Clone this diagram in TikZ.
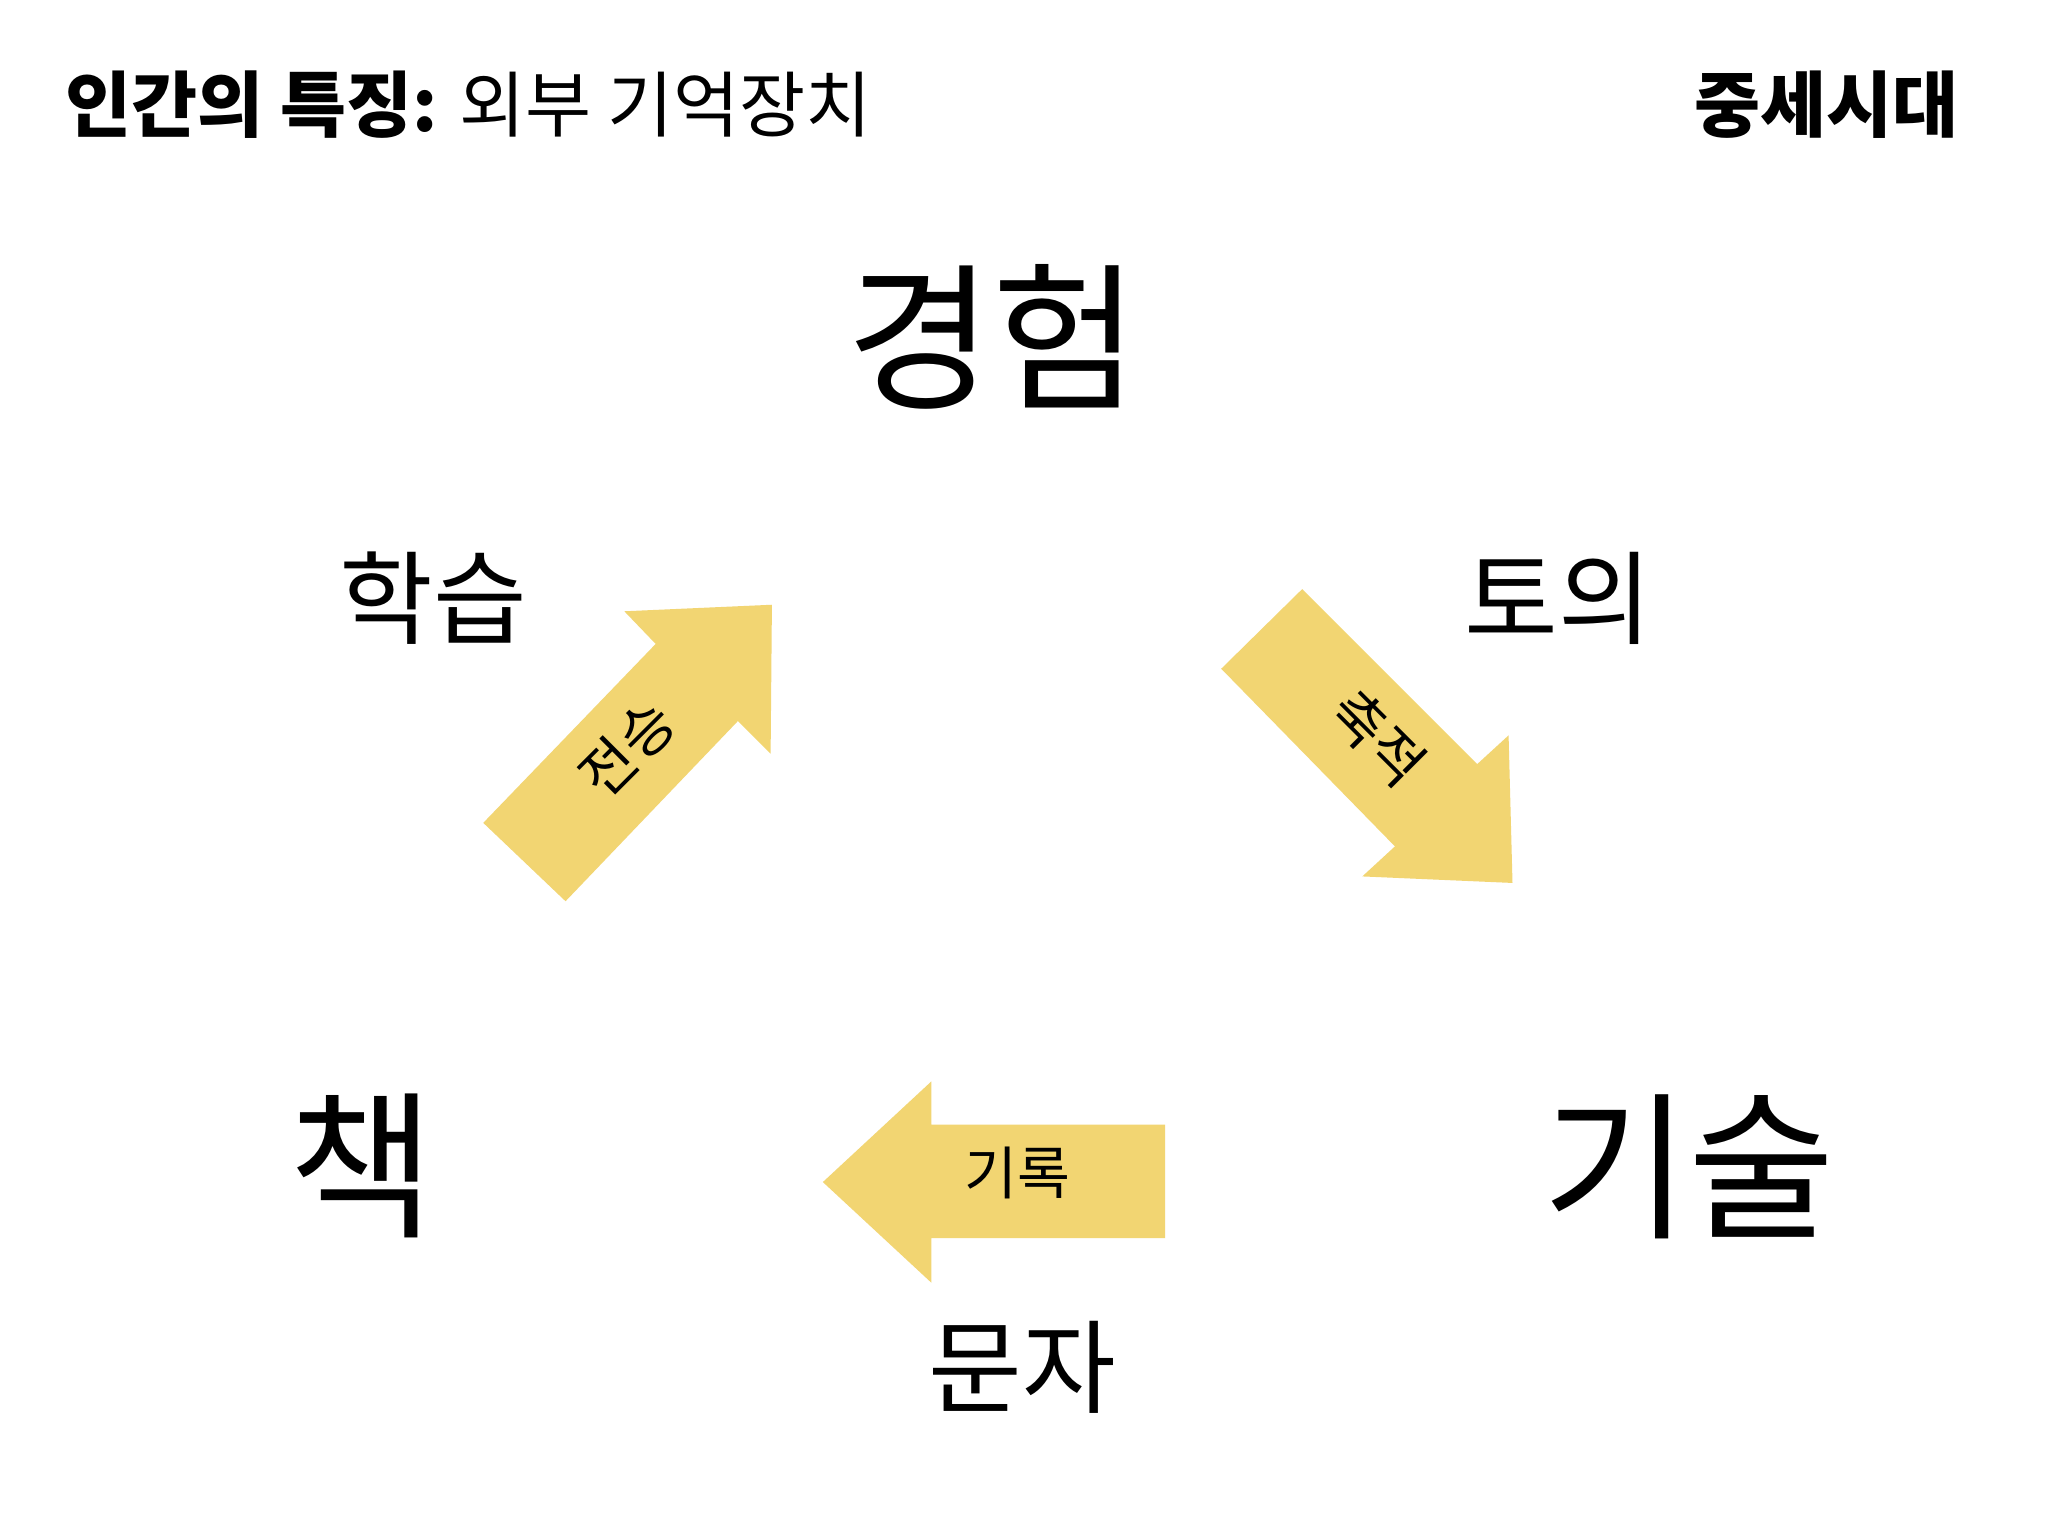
\documentclass[tikz,border=0pt]{standalone}
\usepackage{fontspec}
\setmainfont{Noto Sans CJK KR}
\definecolor{ay}{HTML}{F2D572}
\begin{document}
\begin{tikzpicture}[x=1pt,y=-1pt,
  arr/.style={fill=ay,draw=none},
  lab/.style={font=\fontsize{44}{44}\selectfont,inner sep=0pt},
  word/.style={inner sep=0pt}]
\useasboundingbox[fill=white] (0,0) rectangle (1568,1176);
\node[word,anchor=west,font=\fontsize{55}{55}\selectfont] (title) at (50,80) {\textbf{인간의 특징:} 외부 기억장치};
\node[word,anchor=east,font=\bfseries\fontsize{55}{55}\selectfont] (era) at (1500,80) {중세시대};
\node[word,font=\fontsize{122}{122}\selectfont] (exp) at (760,258) {경험};
\node[word,font=\fontsize{78}{78}\selectfont] (learn) at (332,458) {학습};
\node[word,font=\fontsize{78}{78}\selectfont] (disc) at (1193,458) {토의};
\node[word,font=\fontsize{122}{122}\selectfont] (book) at (277,893) {책};
\node[word,font=\fontsize{122}{122}\selectfont] (tech) at (1293,893) {기술};
\node[word,font=\fontsize{78}{78}\selectfont] (char) at (783,1047) {문자};
% left arrow
\fill[arr] (630,905) -- (713,828) -- (713,861) -- (892,861) -- (892,948) -- (713,948) -- (713,982) -- cycle;
\node[lab] (rec) at (779,898) {기록};
% up-right arrow
\fill[arr] (591,463) -- (590,577) -- (565,552) -- (433,690) -- (370,630) -- (502,493) -- (478,468) -- cycle;
\node[lab,rotate=45] (trans) at (480,573) {전승};
% down-right arrow
\fill[arr] (1158,676) -- (1043,671) -- (1068,648) -- (935,512) -- (997,451) -- (1131,585) -- (1155,563) -- cycle;
\node[lab,rotate=-45] (acc) at (1055,565) {축적};
\end{tikzpicture}
\end{document}
